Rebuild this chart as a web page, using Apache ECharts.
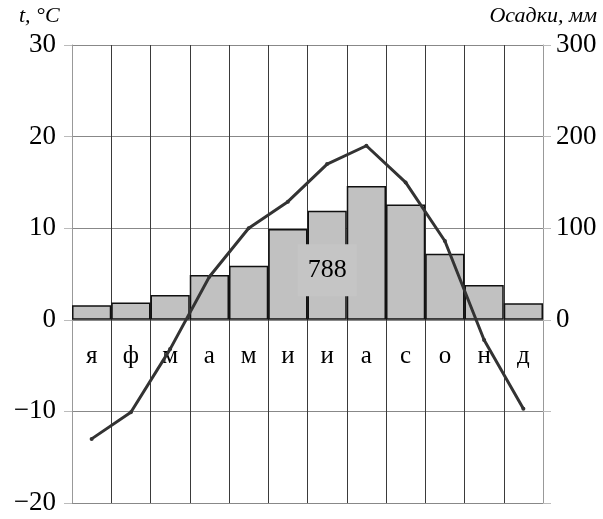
<!DOCTYPE html>
<html>
<head>
<meta charset="utf-8">
<script src="https://cdn.jsdelivr.net/npm/echarts@6/dist/echarts.min.js"></script>
<style>
  html, body { margin: 0; padding: 0; background: #fff; }
  #chart { width: 603px; height: 519px; }
</style>
</head>
<body>
<div id="chart"></div>
<script>
  // месяцы, температура (°C), осадки (мм)
  var months = ['я', 'ф', 'м', 'а', 'м', 'и', 'и', 'а', 'с', 'о', 'н', 'д'];
  var temperature = [-13, -10.1, -3.2, 4.7, 10, 12.9, 17, 19, 15, 8.6, -2.2, -9.7];
  var precipitation = [16, 19, 27, 49, 59, 99, 119, 146, 126, 72, 38, 18];
  var totalPrecip = '788';

  var serif = '"Liberation Serif", "DejaVu Serif", serif';
  var chart = echarts.init(document.getElementById('chart'));

  var titles = [
    { type: 'text', left: 19, top: 5, style: { text: 't, °C', font: 'italic 22px ' + serif, fill: '#000' } },
    { type: 'text', right: 6, top: 5, style: { text: 'Осадки, мм', font: 'italic 22px ' + serif, fill: '#000' } }
  ];

  var option = {
    animation: false,
    backgroundColor: '#fff',
    grid: { left: 72, right: 60, top: 45, bottom: 16, outerBoundsMode: 'none', containLabel: false },
    xAxis: {
      type: 'category',
      data: months,
      axisLine: { show: false, onZero: false },
      axisTick: { show: false },
      // подписи месяцев внутри поля, под нулевой линией
      axisLabel: { margin: -159, fontFamily: serif, fontSize: 25, color: '#000' },
      splitLine: { show: true, lineStyle: { color: '#3a3a3a', width: 1 } }
    },
    yAxis: [{
      type: 'value',
      min: -20, max: 30, interval: 10,
      axisLine: { show: true, lineStyle: { color: '#999', width: 1 } },
      axisTick: { show: true, length: 8, lineStyle: { color: '#bbb' } },
      axisLabel: {
        margin: 16, fontFamily: serif, fontSize: 27, color: '#000',
        formatter: function (v) { return v < 0 ? '\u2212' + Math.abs(v) : v; }
      },
      splitLine: { show: true, lineStyle: { color: '#888', width: 1 } }
    }, {
      type: 'value',
      min: -200, max: 300, interval: 100,
      axisLine: { show: true, lineStyle: { color: '#999', width: 1 } },
      axisTick: { show: true, length: 8, lineStyle: { color: '#bbb' } },
      axisLabel: {
        margin: 13, fontFamily: serif, fontSize: 27, color: '#000',
        formatter: function (v) { return v < 0 ? '' : v; }
      },
      splitLine: { show: false }
    }],
    graphic: titles,
    series: [{
      name: 'Осадки',
      type: 'bar',
      yAxisIndex: 1,
      data: precipitation,
      barCategoryGap: 0,
      itemStyle: { color: '#c1c1c1', borderColor: '#111', borderWidth: 1.5 },
      z: 2
    }, {
      name: 'Температура',
      type: 'line',
      yAxisIndex: 0,
      data: temperature,
      symbol: 'circle',
      symbolSize: 4,
      itemStyle: { color: '#333' },
      lineStyle: { color: '#333', width: 3 },
      z: 4
    }]
  };

  chart.setOption(option);

  // подпись суммы осадков поверх столбцов
  var c = chart.convertToPixel({ xAxisIndex: 0, yAxisIndex: 1 }, [5.5, 54]);
  chart.setOption({
    graphic: titles.concat([{
      type: 'text', x: c[0], y: c[1], z: 3,
      style: {
        text: totalPrecip, font: '26px ' + serif, fill: '#000',
        align: 'center', verticalAlign: 'middle',
        backgroundColor: '#c5c5c5', padding: [12, 10, 14, 10]
      }
    }])
  });
</script>
</body>
</html>
